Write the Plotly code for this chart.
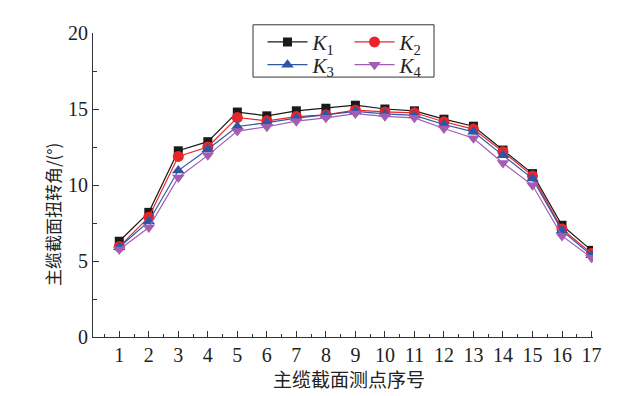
import plotly.graph_objects as go

points = list(range(1, 18))
tick_labels = [str(i) for i in points]
k1 = [6.3, 8.2, 12.25, 12.85, 14.8, 14.55, 14.88, 15.05, 15.25, 15.0, 14.88, 14.33, 13.87, 12.3, 10.75, 7.35, 5.7]
k2 = [5.95, 7.88, 11.88, 12.5, 14.44, 14.22, 14.5, 14.62, 14.92, 14.81, 14.75, 14.16, 13.68, 12.19, 10.6, 7.1, 5.5]
k3 = [5.9, 7.6, 10.95, 12.35, 13.85, 14.1, 14.4, 14.62, 14.85, 14.68, 14.58, 13.98, 13.5, 11.95, 10.42, 7.0, 5.38]
k4 = [5.75, 7.2, 10.5, 11.95, 13.55, 13.83, 14.2, 14.42, 14.7, 14.52, 14.42, 13.72, 13.08, 11.45, 9.98, 6.65, 5.22]
series_names = ["<i>K</i><sub>1</sub>", "<i>K</i><sub>2</sub>", "<i>K</i><sub>3</sub>", "<i>K</i><sub>4</sub>"]
x_title = "主缆截面测点序号"
y_title = "主缆截面扭转角/(°)"

serif = "Liberation Serif"
cjk = "Noto Sans CJK SC"

fig = go.Figure()
styles = [
    (k1, "#1a1a1a", "square", 9, "legend"),
    (k2, "#e8262a", "circle", 11, "legend"),
    (k3, "#2f56a6", "triangle-up", 11, "legend2"),
    (k4, "#a35db3", "triangle-down", 11, "legend2"),
]
for name, (vals, col, sym, size, lg) in zip(series_names, styles):
    fig.add_trace(go.Scatter(
        x=points, y=vals, mode="lines+markers", name=name, legend=lg,
        line=dict(color=col, width=1.2),
        marker=dict(symbol=sym, size=size, color=col),
    ))

axis_common = dict(
    showline=True, linecolor="#333", linewidth=1, mirror=False,
    ticks="inside", ticklen=6, tickcolor="#333", showgrid=False, zeroline=False,
    tickfont=dict(family=serif, size=20, color="#222"), automargin=False,
)

fig.update_xaxes(
    range=[0.11, 17.05], tickmode="array", tickvals=points, ticktext=tick_labels,
    minor=dict(ticks="inside", ticklen=3, dtick=0.5, tick0=0.5, tickcolor="#333"),
    **axis_common,
)
fig.update_yaxes(
    range=[0, 20], tickvals=[0, 5, 10, 15, 20],
    minor=dict(ticks="inside", ticklen=4, dtick=2.5, tickcolor="#333"),
    **axis_common,
)

legend_common = dict(
    orientation="h", bgcolor="rgba(0,0,0,0)", borderwidth=0,
    font=dict(family=serif, size=21, color="#222"),
    entrywidth=32, entrywidthmode="pixels", itemwidth=40,
    xanchor="left", yanchor="top", tracegroupgap=0,
)
fig.update_layout(
    width=642, height=396,
    margin=dict(l=93, r=49, t=33, b=59, autoexpand=False),
    paper_bgcolor="white", plot_bgcolor="white",
    showlegend=True,
    legend=dict(x=0.339, y=1.037, **legend_common),
    legend2=dict(x=0.339, y=0.962, **legend_common),
    shapes=[dict(type="rect", xref="paper", yref="paper",
                 x0=0.32, x1=0.682, y0=0.855, y1=1.027,
                 line=dict(color="#333", width=1), fillcolor="rgba(0,0,0,0)", layer="below")],
    annotations=[
        dict(text=x_title, xref="paper", yref="paper", x=0.511, y=-0.135,
             xanchor="center", yanchor="middle", showarrow=False,
             font=dict(family=cjk, size=19, color="#222")),
        dict(text=y_title, xref="paper", yref="paper", x=-0.082, y=0.401, textangle=-90,
             xanchor="center", yanchor="middle", showarrow=False,
             font=dict(family=cjk, size=17, color="#222")),
    ],
)

fig.write_html("out.html", config={"displayModeBar": False},
               post_script="document.body.style.margin='0px';")
